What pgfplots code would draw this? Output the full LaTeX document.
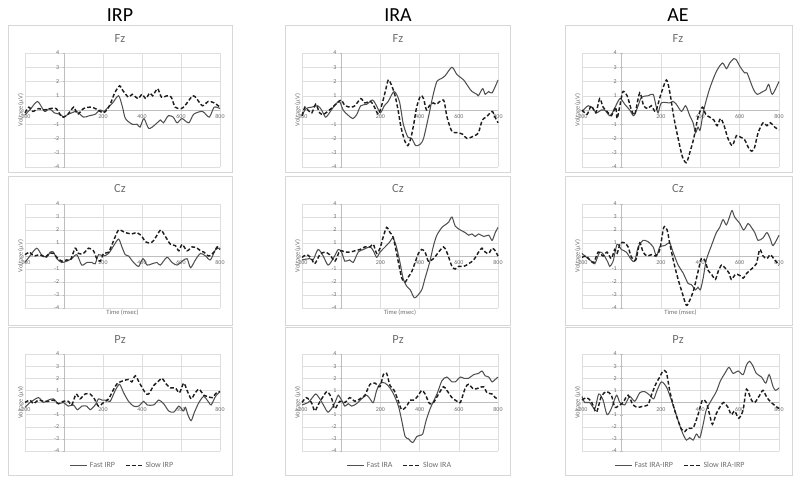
\documentclass[border=0pt]{standalone}
\usepackage{fontspec}
\setmainfont{Carlito}
\usepackage{pgfplots}
\pgfplotsset{compat=1.18}
\definecolor{gridc}{RGB}{222,222,222}
\definecolor{axc}{RGB}{190,190,190}
\definecolor{boxc}{RGB}{215,215,215}
\definecolor{txtc}{RGB}{110,110,110}
\definecolor{linec}{RGB}{80,80,80}
\definecolor{dashc}{RGB}{30,30,30}
\pgfplotsset{
 erp/.style={
  scale only axis,
  xmin=-200,xmax=800,ymin=-4,ymax=4,
  axis lines=middle,
  axis line style={draw=axc,-},
  xtick={-200,0,200,400,600,800},
  ytick={-4,-3,-2,-1,1,2,3,4},
  grid=major,
  grid style={draw=gridc, line width=0.4pt},
  xtick style={draw=none},
  ytick style={draw=axc},
  major tick length=2.5bp,
  tick label style={font=\fontsize{6}{7}\selectfont, text=txtc},
  /pgf/number format/assume math mode=true,
  every axis y label/.style={at={(rel axis cs:0,0.5)}, rotate=90, anchor=south, font=\fontsize{6.5}{7}\selectfont, text=txtc, inner sep=1bp},
  ylabel={Voltage (µV)},
  every axis x label/.style={at={(rel axis cs:0.5,0)}, anchor=north, font=\fontsize{6.5}{7}\selectfont, text=txtc, inner sep=1.5bp},
  legend style={at={(0.5,-0.07)}, anchor=north, draw=none, fill=none, legend columns=2, font=\fontsize{8}{9}\selectfont, text=txtc, /tikz/every even column/.append style={column sep=8bp}},
  legend image code/.code={\draw[##1] (0bp,0bp) -- (17bp,0bp);},
  clip=false,
 },
 fast/.style={color=linec, line width=1.05bp, no marks, smooth, tension=0.45},
 slow/.style={color=dashc, line width=1.45bp, dash pattern=on 3.8bp off 2.2bp, no marks, smooth, tension=0.45},
 c1/.style={width=195bp}, c2/.style={width=196bp}, c3/.style={width=197bp},
 r1/.style={height=114bp}, r2/.style={height=104bp}, r3/.style={height=97bp},
}
\begin{document}
\begin{tikzpicture}
\useasboundingbox (0,0) rectangle (800bp,485bp);
% panel frames
\foreach \xa/\xb in {8/232,285/510,565/792}{
  \draw[boxc, line width=0.5bp] (\xa bp,460bp) rectangle (\xb bp,313bp);
  \draw[boxc, line width=0.5bp] (\xa bp,309bp) rectangle (\xb bp,160bp);
  \draw[boxc, line width=0.5bp] (\xa bp,158bp) rectangle (\xb bp,10bp);
}
% column titles
\node[font=\fontsize{20}{22}\selectfont] at (120bp,470bp) {IRP};
\node[font=\fontsize{20}{22}\selectfont] at (398bp,470bp) {IRA};
\node[font=\fontsize{20}{22}\selectfont] at (678bp,470bp) {AE};
\foreach \xc in {120,398,678}{
  \node[font=\fontsize{12.5}{13}\selectfont, text=txtc] at (\xc bp,446bp) {Fz};
  \node[font=\fontsize{12.5}{13}\selectfont, text=txtc] at (\xc bp,296bp) {Cz};
  \node[font=\fontsize{12.5}{13}\selectfont, text=txtc] at (\xc bp,145bp) {Pz};
}
% ===== Row 1: Fz =====
\begin{axis}[erp,c1,r1,at={(25bp,318bp)},anchor=south west]
\addplot[fast] coordinates {(-200,-0.35) (-170,0.1) (-135,0.6) (-100,-0.1) (-75,0.1) (-50,-0.2) (-20,-0.3) (0,-0.5) (20,-0.3) (40,-0.2) (65,-0.1) (100,-0.5) (130,-0.4) (160,-0.3) (185,0.0) (205,-0.1) (220,0.1) (250,0.5) (280,1.0) (300,0.2) (315,-0.6) (350,-1.0) (375,-1.0) (390,-1.2) (410,-0.6) (435,-1.3) (470,-1.0) (495,-0.7) (510,-0.9) (535,-0.4) (560,-0.5) (580,-0.9) (605,-0.6) (640,-0.9) (665,-0.3) (710,-0.1) (745,-0.5) (770,0.2) (800,0.1)};
\addplot[slow] coordinates {(-200,-0.2) (-180,0.2) (-160,-0.1) (-130,0.1) (-100,0.0) (-70,0.1) (-40,0.1) (-10,-0.5) (20,-0.3) (50,0.2) (70,-0.3) (100,0.1) (140,0.2) (175,0.0) (200,-0.2) (220,0.0) (240,0.5) (260,1.2) (285,1.7) (300,1.4) (330,0.9) (350,1.1) (380,0.8) (400,1.1) (420,0.8) (440,1.2) (455,1.0) (480,1.5) (500,0.9) (530,1.0) (550,0.9) (570,0.2) (600,0.1) (620,0.3) (660,1.0) (680,0.8) (710,0.3) (740,0.6) (770,0.5) (800,0.2)};
\end{axis}
\begin{axis}[erp,c2,r1,at={(302bp,318bp)},anchor=south west]
\addplot[fast] coordinates {(-200,-0.4) (-180,0.1) (-150,0.2) (-120,0.3) (-100,0.0) (-80,-0.5) (-60,-0.2) (-40,0.2) (-10,0.6) (10,0.0) (30,-0.3) (60,-0.6) (80,-0.3) (100,0.3) (130,0.4) (160,0.7) (180,0.3) (200,-0.2) (220,0.3) (240,0.6) (270,1.3) (297,0.6) (317,-1.0) (340,-1.9) (360,-2.0) (380,-2.5) (403,-2.4) (420,-2.0) (445,-0.5) (468,1.0) (488,2.0) (510,2.2) (530,2.4) (565,3.0) (590,2.5) (625,2.1) (650,1.6) (667,1.3) (693,1.1) (700,1.0) (722,1.5) (735,1.1) (752,1.3) (770,1.2) (800,2.1)};
\addplot[slow] coordinates {(-200,-0.4) (-185,0.2) (-170,0.0) (-150,-0.2) (-130,0.4) (-110,-0.2) (-90,-0.3) (-60,0.0) (-20,0.5) (0,0.7) (20,0.3) (50,0.2) (70,0.3) (100,0.8) (120,0.5) (150,0.6) (170,0.2) (190,-0.3) (210,0.5) (225,1.3) (240,2.1) (255,1.8) (275,1.0) (290,0.0) (305,-1.2) (325,-2.2) (340,-2.5) (355,-2.0) (370,-1.0) (385,0.2) (405,1.0) (420,0.8) (435,0.0) (450,0.3) (470,0.5) (485,0.4) (522,0.7) (540,-0.5) (565,-1.5) (600,-1.6) (620,-1.7) (642,-2.0) (680,-1.8) (700,-1.6) (720,-0.7) (740,-0.5) (770,-0.1) (785,-0.5) (800,-0.9)};
\end{axis}
\begin{axis}[erp,c3,r1,at={(582bp,318bp)},anchor=south west]
\addplot[fast] coordinates {(-200,-0.1) (-169,0.3) (-144,0.1) (-127,-0.2) (-102,0.0) (-85,0.0) (-59,-0.4) (-42,-0.1) (-8,0.8) (17,0.4) (42,0.0) (63,-0.4) (85,0.3) (102,0.9) (135,1.0) (161,1.1) (174,0.4) (186,-0.2) (203,0.5) (245,0.5) (262,0.6) (279,0.4) (305,-0.1) (326,0.3) (347,-0.4) (364,-0.9) (376,-1.6) (389,-1.2) (400,-1.4) (418,0.0) (448,1.5) (482,2.7) (513,3.3) (533,2.9) (550,3.3) (570,3.6) (584,3.5) (604,3.0) (626,2.6) (638,2.6) (660,1.8) (672,1.4) (689,1.1) (719,1.3) (733,1.4) (748,1.8) (766,1.1) (800,2.0)};
\addplot[slow] coordinates {(-200,0.0) (-174,-0.3) (-153,0.3) (-130,-0.2) (-110,0.8) (-93,0.2) (-73,-0.1) (-51,-0.4) (-29,0.2) (-22,-0.6) (-5,0.5) (8,1.3) (29,1.0) (51,0.0) (68,-0.3) (93,1.2) (113,0.3) (135,0.1) (152,0.3) (174,-0.1) (198,1.0) (228,2.1) (245,1.3) (266,-0.5) (288,-2.0) (310,-3.3) (330,-3.7) (347,-3.0) (367,-2.0) (389,-0.5) (411,0.2) (428,-0.3) (448,-0.5) (469,-0.7) (486,-1.1) (503,-0.6) (519,-1.0) (541,-2.0) (563,-2.5) (584,-1.8) (604,-1.9) (626,-2.1) (651,-2.8) (672,-2.8) (694,-1.6) (719,-0.9) (739,-1.1) (756,-0.9) (778,-1.2) (800,-1.4)};
\end{axis}
% ===== Row 2: Cz =====
\begin{axis}[erp,c1,r2,at={(25bp,177bp)},anchor=south west,xlabel={Time (msec)}]
\addplot[fast] coordinates {(-200,-0.5) (-175,0.0) (-140,0.6) (-115,0.1) (-89,-0.1) (-71,0.3) (-54,0.3) (-37,-0.2) (-12,-0.5) (14,-0.4) (40,-0.2) (66,0.1) (91,-0.7) (117,-0.5) (143,-0.5) (160,-0.6) (177,0.1) (203,0.0) (229,0.2) (255,0.8) (280,1.3) (297,0.7) (314,0.1) (331,0.0) (357,-0.5) (383,-0.8) (405,-0.2) (426,-0.7) (451,-0.6) (477,-0.5) (494,-0.7) (528,-0.1) (554,-0.5) (580,-0.7) (606,-0.4) (631,-0.2) (649,-0.9) (674,-0.3) (700,0.2) (726,0.0) (751,-0.3) (777,0.5) (800,0.6)};
\addplot[slow] coordinates {(-200,0.1) (-175,0.3) (-157,0.0) (-123,0.1) (-97,-0.1) (-75,0.2) (-54,0.2) (-37,-0.1) (-12,-0.4) (14,-0.3) (34,-0.3) (57,0.6) (74,0.2) (100,0.2) (126,0.6) (151,0.4) (168,-0.2) (186,-0.4) (203,0.2) (229,0.3) (255,1.2) (280,2.0) (314,1.8) (348,1.7) (374,1.8) (400,1.5) (417,1.1) (443,1.0) (460,1.2) (477,1.6) (497,2.0) (520,1.5) (546,0.9) (571,0.8) (589,0.4) (606,0.9) (631,0.4) (657,0.7) (683,0.6) (700,0.4) (717,0.3) (743,0.0) (769,0.3) (786,0.7) (800,0.5)};
\end{axis}
\begin{axis}[erp,c2,r2,at={(302bp,177bp)},anchor=south west,xlabel={Time (msec)}]
\addplot[fast] coordinates {(-200,-0.3) (-160,-0.2) (-143,-0.3) (-118,0.5) (-92,0.0) (-67,-0.7) (-41,-0.2) (-15,0.5) (2,0.3) (19,-0.4) (44,-0.3) (61,-0.5) (87,0.3) (113,0.5) (147,0.7) (164,0.4) (181,-0.1) (198,0.3) (224,0.7) (249,1.1) (263,1.4) (280,0.8) (300,-0.5) (317,-1.8) (338,-2.4) (352,-2.6) (372,-3.2) (386,-3.1) (411,-2.6) (428,-1.7) (451,-0.5) (471,0.8) (488,1.6) (514,2.2) (531,2.4) (548,2.6) (565,3.0) (582,2.3) (608,2.0) (633,1.8) (650,1.6) (667,1.7) (684,1.5) (701,1.7) (727,1.5) (753,1.6) (770,1.2) (786,1.8) (800,2.2)};
\addplot[slow] coordinates {(-200,-0.1) (-174,0.1) (-152,-0.2) (-135,-0.6) (-109,0.1) (-84,0.3) (-58,0.1) (-32,-0.4) (-7,0.4) (19,0.3) (44,0.3) (70,0.4) (96,0.5) (121,0.7) (147,0.7) (164,0.9) (181,0.2) (198,0.6) (215,1.5) (232,2.2) (249,1.8) (266,1.4) (292,-0.5) (309,-1.7) (326,-2.0) (343,-1.6) (360,-1.2) (377,-0.5) (394,0.2) (411,0.5) (428,0.3) (445,-0.4) (471,-0.2) (497,0.3) (522,0.7) (539,0.3) (565,-0.8) (582,-1.0) (599,-0.8) (625,-0.8) (650,-0.6) (676,-0.3) (701,0.3) (718,0.6) (735,0.3) (753,0.2) (770,0.6) (786,0.4) (800,0.0)};
\end{axis}
\begin{axis}[erp,c3,r2,at={(582bp,177bp)},anchor=south west,xlabel={Time (msec)}]
\addplot[fast] coordinates {(-200,0.2) (-178,-0.1) (-152,-0.4) (-135,-0.6) (-110,0.3) (-90,0.1) (-68,-0.5) (-59,-0.8) (-42,-0.4) (-22,0.9) (0,0.5) (25,0.3) (51,-0.3) (68,-0.4) (85,0.7) (110,1.2) (135,1.1) (161,0.7) (178,0.0) (195,0.7) (220,0.8) (245,1.0) (262,0.3) (288,-0.7) (313,-1.3) (338,-2.1) (355,-2.2) (376,-2.6) (389,-2.4) (401,-2.6) (415,-1.7) (431,-0.3) (457,0.8) (482,1.8) (499,2.2) (516,2.8) (533,2.4) (553,3.2) (562,3.5) (575,3.0) (601,2.5) (621,2.0) (643,2.5) (660,2.2) (677,1.8) (694,1.2) (719,1.4) (739,1.8) (756,1.3) (770,0.8) (800,1.6)};
\addplot[slow] coordinates {(-200,-0.1) (-178,0.0) (-161,-0.3) (-140,-0.5) (-118,0.3) (-93,0.0) (-73,0.3) (-51,-0.2) (-34,0.5) (-22,0.2) (-5,1.0) (17,1.0) (34,0.7) (51,-0.1) (73,-0.3) (93,1.0) (110,0.3) (130,0.0) (152,0.1) (174,0.0) (195,0.5) (215,2.2) (232,2.0) (245,1.0) (266,-0.5) (288,-1.8) (310,-2.9) (330,-3.8) (347,-3.4) (367,-2.6) (389,-1.2) (406,-0.2) (423,-0.3) (440,-1.1) (457,-1.4) (477,-1.8) (491,-1.2) (508,-0.7) (525,-0.9) (546,-1.3) (558,-1.8) (580,-1.4) (601,-1.5) (618,-1.7) (638,-1.3) (660,-1.0) (685,-0.6) (702,0.5) (719,0.0) (739,-0.2) (756,0.1) (778,-0.3) (800,-0.7)};
\end{axis}
% ===== Row 3: Pz =====
\begin{axis}[erp,c1,r3,at={(25bp,34bp)},anchor=south west]
\addplot[fast] coordinates {(-200,-0.4) (-174,0.0) (-131,0.4) (-106,0.0) (-80,0.2) (-54,0.3) (-29,-0.1) (-3,0.0) (22,-0.3) (48,-0.2) (69,-0.6) (91,-0.3) (117,-0.3) (134,-0.6) (160,-0.2) (177,0.3) (194,0.2) (217,0.2) (237,0.1) (263,1.0) (285,1.5) (306,0.8) (331,0.1) (357,-0.3) (383,-0.3) (409,0.1) (426,-0.2) (460,-0.2) (486,0.2) (511,-0.1) (537,-0.7) (563,-0.8) (589,-0.3) (611,-0.7) (623,-0.4) (635,-1.0) (652,-1.5) (669,-0.8) (692,0.0) (717,0.5) (743,0.0) (755,-0.2) (777,0.5) (800,0.9)};
\addlegendentry{Fast IRP}
\addplot[slow] coordinates {(-200,0.0) (-174,0.2) (-157,-0.1) (-131,0.2) (-106,0.1) (-80,0.1) (-54,0.2) (-29,-0.1) (-3,0.1) (22,0.1) (40,-0.2) (62,0.7) (82,0.3) (108,0.7) (134,0.7) (156,0.3) (177,-0.3) (203,0.0) (229,0.3) (255,1.1) (275,1.6) (306,1.8) (331,1.9) (348,1.7) (366,2.2) (391,1.5) (417,0.8) (434,0.7) (460,1.4) (481,1.7) (503,2.0) (520,1.6) (546,1.2) (571,1.2) (592,0.8) (614,1.6) (631,1.0) (652,0.3) (669,0.7) (692,1.1) (717,0.6) (738,0.5) (760,0.4) (782,0.8) (800,0.9)};
\addlegendentry{Slow IRP}
\end{axis}
\begin{axis}[erp,c2,r3,at={(302bp,34bp)},anchor=south west]
\addplot[fast] coordinates {(-200,-0.2) (-169,0.0) (-152,0.3) (-130,0.7) (-109,0.3) (-84,-0.4) (-67,-0.8) (-41,-0.3) (-24,0.3) (-15,0.6) (2,0.2) (19,-0.3) (36,-0.1) (53,-0.3) (78,-0.1) (104,0.3) (130,0.6) (147,0.3) (164,0.0) (181,1.0) (201,1.6) (224,1.6) (249,1.2) (270,0.6) (292,-0.3) (309,-1.5) (326,-2.8) (343,-3.0) (365,-3.3) (386,-2.8) (403,-2.7) (416,-2.6) (433,-1.5) (454,-0.5) (471,0.1) (491,0.8) (514,1.8) (539,2.1) (565,1.7) (582,1.7) (608,2.1) (625,2.0) (650,2.0) (676,2.3) (701,2.4) (718,2.6) (735,2.2) (753,2.1) (770,1.7) (786,1.9) (800,2.1)};
\addlegendentry{Fast IRA}
\addplot[slow] coordinates {(-200,0.0) (-178,0.4) (-152,0.0) (-135,-0.7) (-118,-0.2) (-92,0.5) (-72,0.9) (-50,0.4) (-33,-0.5) (-7,0.1) (19,0.0) (44,0.4) (70,0.1) (96,0.3) (121,0.6) (147,1.5) (172,1.6) (198,1.3) (215,2.3) (232,2.4) (249,1.4) (270,1.0) (292,0.1) (309,-0.6) (334,-0.3) (352,0.2) (372,0.2) (394,0.6) (411,1.0) (428,0.7) (451,-0.1) (471,0.0) (497,0.7) (522,1.3) (539,1.0) (565,0.4) (591,0.1) (608,0.0) (633,1.2) (650,1.5) (676,1.1) (701,1.2) (727,1.3) (744,0.8) (770,0.7) (786,0.4) (800,0.3)};
\addlegendentry{Slow IRA}
\end{axis}
\begin{axis}[erp,c3,r3,at={(582bp,34bp)},anchor=south west]
\addplot[fast] coordinates {(-200,0.5) (-186,0.0) (-161,0.0) (-135,-0.5) (-115,0.7) (-93,0.2) (-73,-1.0) (-51,-0.5) (-25,0.6) (-8,0.0) (17,-0.2) (42,0.5) (68,0.1) (93,0.8) (118,0.9) (144,0.6) (164,0.3) (181,1.0) (203,1.7) (228,1.3) (245,0.6) (266,-0.4) (288,-1.5) (310,-2.5) (330,-3.1) (347,-2.9) (364,-3.1) (381,-2.6) (398,-2.9) (415,-1.8) (431,-0.6) (457,0.2) (482,0.9) (503,1.8) (525,2.4) (546,2.9) (567,2.4) (592,2.6) (618,2.3) (635,3.1) (651,3.4) (668,3.0) (685,2.4) (711,2.1) (733,1.6) (750,2.3) (770,1.3) (783,1.0) (800,1.2)};
\addlegendentry{Fast IRA-IRP}
\addplot[slow] coordinates {(-200,0.2) (-178,0.4) (-153,0.1) (-127,-0.8) (-102,0.5) (-76,0.9) (-51,0.6) (-34,-0.4) (-17,-0.3) (8,0.0) (34,0.6) (59,-0.2) (85,-0.4) (110,-0.3) (135,-0.2) (152,0.6) (174,1.5) (198,2.2) (211,2.6) (228,2.5) (245,1.0) (266,-0.4) (288,-1.5) (305,-2.2) (322,-2.4) (338,-2.1) (364,-2.1) (389,-1.0) (411,0.2) (431,0.0) (448,-1.0) (462,-1.8) (482,-0.9) (499,-0.4) (519,0.0) (541,-0.4) (558,-1.0) (575,-0.7) (596,-1.3) (618,-0.6) (635,1.1) (660,0.2) (677,0.0) (702,0.6) (719,1.0) (739,0.4) (761,0.0) (783,-0.3) (800,-0.5)};
\addlegendentry{Slow IRA-IRP}
\end{axis}
\end{tikzpicture}
\end{document}
